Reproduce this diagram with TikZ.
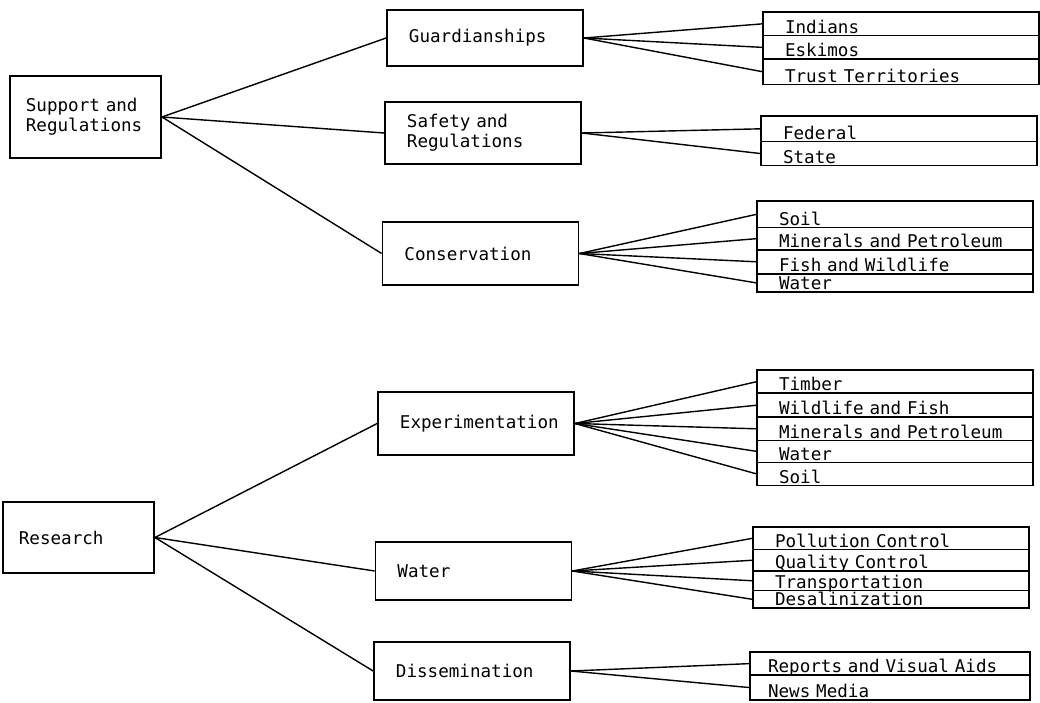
\documentclass[tikz,border=0pt]{standalone}
\usepackage{fontspec}
\newfontfamily\typefont[WordSpace={1,0,0}]{DejaVu Sans Mono}
\usetikzlibrary{positioning}

\tikzset{
  typed/.style={font=\typefont\fontsize{12.5}{14.5}\selectfont},
  topbox/.style={typed,draw,line width=1.2pt,text width=2.98cm,inner xsep=0.4cm,
    align=left,minimum height=#1},
  midbox/.style={typed,draw,line width=1.2pt,text width=3.8cm,inner xsep=0.55cm,
    align=left,minimum height=#1},
  % list rows: text sits on the line below it
  entry/.style={typed,draw,line width=1.1pt,text width=5.8cm,inner xsep=0.55cm,
    inner ysep=0pt,outer sep=0pt,align=left,text height=#1,text depth=0.06cm},
  link/.style={line width=1pt},
}

\begin{document}
\begin{tikzpicture}[x=0.025cm,y=-0.025cm]
\useasboundingbox (0,0) rectangle (1040,703);

% Upper tree
\node[topbox=2.05cm] (sup) at (85.5,117) {Support and\\Regulations};

\node[midbox=1.4cm]  (guard) at (485,38)    {Guardianships};
\node[midbox=1.55cm] (safe)  at (483,133)   {Safety and\\Regulations};
\node[midbox=1.58cm] (cons)  at (480.5,253.5) {Conservation};

\foreach \t in {guard,safe,cons}
  \draw[link] (sup.east) -- (\t.west);

% guardianships list
\node[entry=0.53cm,anchor=north west] (ind) at (763,12) {Indians};
\node[entry=0.53cm,below=0pt of ind]   (esk)   {Eskimos};
\node[entry=0.57cm,below=0pt of esk]   (trust) {Trust Territories};

% safety list
\node[entry=0.58cm,anchor=north west] (fed) at (761,116) {Federal};
\node[entry=0.54cm,below=0pt of fed]   (state) {State};

% conservation list
\node[entry=0.6cm,anchor=north west] (soilA) at (757,201) {Soil};
\node[entry=0.5cm,below=0pt of soilA]  (minA)  {Minerals and Petroleum};
\node[entry=0.54cm,below=0pt of minA]  (fishA) {Fish and Wildlife};
\node[entry=0.4cm,below=0pt of fishA]  (watA)  {Water};

\foreach \t in {ind,esk,trust}
  \draw[link] (guard.east) -- (\t.west);
\foreach \t in {fed,state}
  \draw[link] (safe.east) -- (\t.west);
\foreach \t in {soilA,minA,fishA,watA}
  \draw[link] (cons.east) -- (\t.west);

% Lower tree
\node[topbox=1.78cm] (res) at (78.5,537.5) {Research};

\node[midbox=1.58cm] (expt) at (476,423.5) {Experimentation};
\node[midbox=1.45cm] (watr) at (473.5,571) {Water};
\node[midbox=1.45cm] (diss) at (472,671)   {Dissemination};

\foreach \t in {expt,watr,diss}
  \draw[link] (res.east) -- (\t.west);

% experimentation list
\node[entry=0.52cm,anchor=north west] (timb) at (757,370) {Timber};
\node[entry=0.54cm,below=0pt of timb]  (wild)  {Wildlife and Fish};
\node[entry=0.52cm,below=0pt of wild]  (minB)  {Minerals and Petroleum};
\node[entry=0.49cm,below=0pt of minB]  (watB)  {Water};
\node[entry=0.52cm,below=0pt of watB]  (soilB) {Soil};

% water list
\node[entry=0.5cm,anchor=north west] (poll) at (753,527) {Pollution Control};
\node[entry=0.48cm,below=0pt of poll]  (qual)  {Quality Control};
\node[entry=0.43cm,below=0pt of qual]  (trans) {Transportation};
\node[entry=0.38cm,below=0pt of trans] (desal) {Desalinization};

% dissemination list
\node[entry=0.52cm,text width=6.1cm,inner xsep=0.45cm,anchor=north west]
  (rep) at (750,652) {Reports and Visual Aids};
\node[entry=0.56cm,text width=6.1cm,inner xsep=0.45cm,below=0pt of rep]
  (news) {News Media};

\foreach \t in {timb,wild,minB,watB,soilB}
  \draw[link] (expt.east) -- (\t.west);
\foreach \t in {poll,qual,trans,desal}
  \draw[link] (watr.east) -- (\t.west);
\foreach \t in {rep,news}
  \draw[link] (diss.east) -- (\t.west);

\end{tikzpicture}
\end{document}
